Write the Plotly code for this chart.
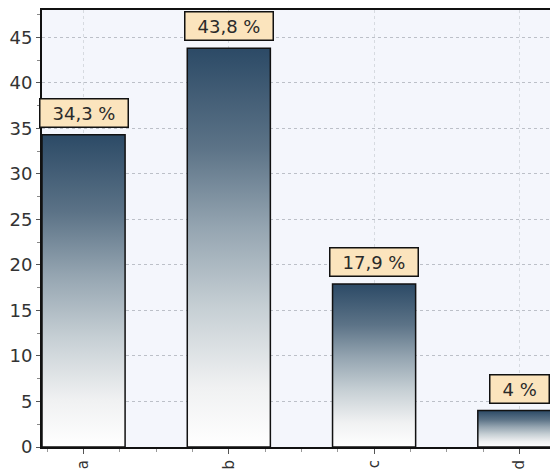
import plotly.graph_objects as go

categories = ["a", "b", "c", "d"]
values = [34.3, 43.8, 17.9, 4.0]
labels = ["34,3 %", "43,8 %", "17,9 %", "4 %"]
y_ticks = [0, 5, 10, 15, 20, 25, 30, 35, 40, 45]

half_width = 0.286
positions = list(range(len(categories)))

fig = go.Figure()

gradient = [[0.0, "#ffffff"], [0.15, "#f0f1f2"], [0.35, "#c6cfd4"],
            [0.55, "#95a5b1"], [0.75, "#5c7387"], [1.0, "#2c4a66"]]

for p, v in zip(positions, values):
    fig.add_trace(go.Scatter(
        x=[p - half_width, p - half_width, p + half_width, p + half_width, p - half_width],
        y=[0, v, v, 0, 0],
        mode="lines",
        fill="toself",
        fillgradient=dict(type="vertical", colorscale=gradient),
        line=dict(color="#111111", width=1.5),
        showlegend=False,
        hoverinfo="skip",
    ))

for p, v, t in zip(positions, values, labels):
    fig.add_annotation(
        x=p, y=v, xref="x", yref="y",
        text="\u2002" + t + "\u2002",
        showarrow=False,
        yanchor="bottom", xanchor="center",
        yshift=7,
        height=21,
        font=dict(family="DejaVu Sans", size=18, color="#2a2a2a"),
        bgcolor="#fbe4bd",
        bordercolor="#111111",
        borderwidth=1.5,
        borderpad=3,
    )

fig.update_layout(
    width=558, height=471,
    margin=dict(l=34, r=8, t=2, b=32),
    paper_bgcolor="#ffffff",
    plot_bgcolor="#f4f6fc",
    font=dict(family="DejaVu Sans", size=18, color="#333333"),
    xaxis=dict(
        range=[-half_width, 3.266],
        tickvals=positions, ticktext=categories,
        tickangle=-90,
        automargin=False,
        showline=True, linecolor="#111111", linewidth=2, mirror=True,
        ticks="outside", ticklen=5, tickcolor="#555555",
        showgrid=True, gridcolor="#d6dae0", griddash="dot", gridwidth=1,
        zeroline=False,
        minor=dict(dtick=0.25, tick0=0, ticks="outside", ticklen=3, tickcolor="#999999", showgrid=False),
        tickfont=dict(size=15, color="#333333"),
    ),
    yaxis=dict(
        range=[0, 48],
        tickvals=y_ticks,
        automargin=False,
        showline=True, linecolor="#111111", linewidth=2,
        ticks="outside", ticklen=4, tickcolor="#555555",
        showgrid=True, gridcolor="#bcc0c8", griddash="dot", gridwidth=1,
        zeroline=False,
        minor=dict(dtick=2.5, tick0=0, ticks="outside", ticklen=3, tickcolor="#888888", showgrid=False),
        tickfont=dict(size=18, color="#333333"),
    ),
)

fig.write_html("out.html")
